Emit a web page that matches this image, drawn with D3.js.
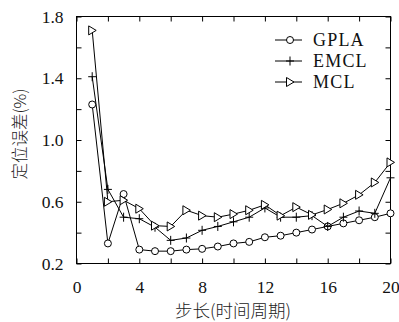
<!DOCTYPE html>
<html><head><meta charset="utf-8">
<script src="https://cdn.jsdelivr.net/npm/d3@7"></script>
<style>body{margin:0;background:#fff}svg{display:block}</style>
</head><body>
<svg id="c" width="399" height="322"></svg>
<script>
const steps = [1,2,3,4,5,6,7,8,9,10,11,12,13,14,15,16,17,18,19,20];
const gpla = [1.23,0.33,0.65,0.29,0.28,0.28,0.29,0.295,0.31,0.33,0.34,0.37,0.38,0.40,0.42,0.44,0.46,0.48,0.50,0.525];
const emcl = [1.41,0.68,0.50,0.49,0.435,0.35,0.365,0.415,0.44,0.47,0.50,0.56,0.50,0.50,0.51,0.44,0.50,0.54,0.525,0.755];
const mcl  = [1.71,0.60,0.61,0.555,0.445,0.44,0.545,0.51,0.50,0.52,0.545,0.58,0.51,0.565,0.515,0.55,0.59,0.645,0.725,0.855];
const seriesNames = ["GPLA","EMCL","MCL"];
const xTicks = [0,2,4,6,8,10,12,14,16,18,20];
const xTickLabels = [0,4,8,12,16,20];
const yTicks = [0.2,0.4,0.6,0.8,1.0,1.2,1.4,1.6,1.8];
const yTickLabels = [0.2,0.6,1.0,1.4,1.8];
const xTitle = "步长(时间周期)";
const yTitle = "定位误差(%)";

const L=76.5, R=390.5, T=16.5, B=263.5;
const x = d3.scaleLinear().domain([0,20]).range([L,R]);
const y = d3.scaleLinear().domain([0.2,1.8]).range([B,T]);
const svg = d3.select("#c");
const serif = "'Liberation Serif','DejaVu Serif',serif";
const cjk = "'Noto Sans CJK SC','Noto Sans CJK JP',sans-serif";

function fmtX(d){return xTickLabels.includes(d)?String(d):"";}
function fmtY(d){return yTickLabels.some(v=>Math.abs(v-d)<1e-9)?d3.format(".1f")(d):"";}

const gx = svg.append("g").attr("transform",`translate(0,${B})`)
  .call(d3.axisBottom(x).tickValues(xTicks).tickSize(-5).tickPadding(17).tickFormat(fmtX));
const gxt = svg.append("g").attr("transform",`translate(0,${T})`)
  .call(d3.axisTop(x).tickValues(xTicks).tickSize(-5).tickFormat(""));
const gy = svg.append("g").attr("transform",`translate(${L},0)`)
  .call(d3.axisLeft(y).tickValues(yTicks).tickSize(-5).tickPadding(13).tickFormat(fmtY));
const gyr = svg.append("g").attr("transform",`translate(${R},0)`)
  .call(d3.axisRight(y).tickValues(yTicks).tickSize(-5).tickFormat(""));
[gx,gxt,gy,gyr].forEach(g=>{
  g.select(".domain").remove();
  g.selectAll("line").attr("stroke","#000");
  g.selectAll("text").attr("font-family",serif).attr("font-size",17.5).attr("fill","#111");
});
svg.append("rect").attr("x",L).attr("y",T).attr("width",R-L).attr("height",B-T)
  .attr("fill","none").attr("stroke","#000").attr("stroke-width",1);

const line = d3.line().x((d,i)=>x(steps[i])).y(d=>y(d));
const data = [gpla,emcl,mcl];
function marker(g,type,cx,cy){
  if(type===0) g.append("circle").attr("cx",cx).attr("cy",cy).attr("r",3.5).attr("fill","#fff").attr("stroke","#000");
  else if(type===1) g.append("path").attr("d",`M${cx-4},${cy}H${cx+4}M${cx},${cy-4.5}V${cy+4.5}`).attr("stroke","#000");
  else g.append("path").attr("d",`M${cx-3.5},${cy-4.5}L${cx+4},${cy}L${cx-3.5},${cy+4.5}Z`).attr("fill","#fff").attr("stroke","#000");
}
data.forEach((s,k)=>{
  svg.append("path").attr("d",line(s)).attr("fill","none").attr("stroke","#000").attr("stroke-width",1);
  const g = svg.append("g");
  s.forEach((v,i)=>marker(g,k,x(steps[i]),y(v)));
});

// legend
const ly=[40,61,82];
seriesNames.forEach((n,k)=>{
  const g=svg.append("g");
  g.append("line").attr("x1",275).attr("x2",302).attr("y1",ly[k]).attr("y2",ly[k]).attr("stroke","#000");
  marker(g,k,290,ly[k]);
  g.append("text").attr("x",313).attr("y",ly[k]+6).attr("font-family",serif).attr("font-size",18)
   .attr("letter-spacing",1.2).attr("fill","#111").text(n);
});

svg.append("text").attr("x",233).attr("y",317).attr("text-anchor","middle")
  .attr("font-family",cjk).attr("font-weight",300).attr("font-size",17.5).attr("fill","#222").text(xTitle);
svg.append("text").attr("transform","translate(26,134) rotate(-90)").attr("text-anchor","middle")
  .attr("font-family",cjk).attr("font-weight",300).attr("font-size",16.5).attr("fill","#222").text(yTitle);
</script>
</body></html>
